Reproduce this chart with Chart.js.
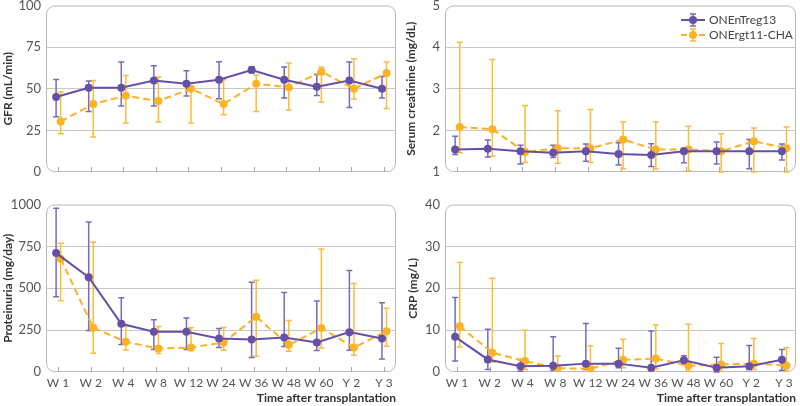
<!DOCTYPE html>
<html>
<head>
<meta charset="utf-8">
<script src="https://cdn.jsdelivr.net/npm/chart.js@4.4.0/dist/chart.umd.min.js"></script>
<style>
  body { margin: 0; background: #fff; }
  #wrap { position: relative; width: 800px; height: 406px; overflow: hidden; }
  canvas { position: absolute; }
</style>
</head>
<body>
<div id="wrap">
  <canvas id="gfr" width="400" height="196" style="left:0;top:-6px"></canvas>
  <canvas id="creat" width="400" height="196" style="left:400px;top:-6px"></canvas>
  <canvas id="prot" width="400" height="213" style="left:0;top:193px"></canvas>
  <canvas id="crp" width="400" height="213" style="left:400px;top:193px"></canvas>
</div>
<script>
const timepoints = ['W 1', 'W 2', 'W 4', 'W 8', 'W 12', 'W 24', 'W 36', 'W 48', 'W 60', 'Y 2', 'Y 3'];
const seriesNames = ['ONEnTreg13', 'ONErgt11-CHA'];

// GFR (mL/min)
const gfrTreg   = [45, 50.6, 50.6, 55, 53, 55.4, 61.2, 55.4, 51.2, 55, 50];
const gfrTregLo = [33.2, 36.4, 39.6, 39.6, 45.6, 44, 59.6, 44.4, 46, 38.8, 44.4];
const gfrTregHi = [55.6, 54.6, 66, 63.8, 60.8, 66.2, 63.2, 63, 58.6, 66, 57.4];
const gfrCha    = [30.4, 40.8, 45.8, 42.6, 50, 40.8, 53, 50.8, 60.2, 50, 59.4];
const gfrChaLo  = [23, 21, 29.4, 30, 29.4, 34.4, 36.4, 37.2, 42, 43.8, 38.2];
const gfrChaHi  = [48, 55, 58, 57, 51, 55.4, 58.2, 65.4, 63, 68, 66];

// serum creatinine (mg/dL)
const creTreg   = [1.54, 1.56, 1.50, 1.46, 1.50, 1.43, 1.41, 1.50, 1.50, 1.50, 1.50];
const creTregLo = [1.42, 1.36, 1.19, 1.35, 1.26, 1.17, 1.13, 1.22, 1.19, 1.08, 1.29];
const creTregHi = [1.86, 1.77, 1.64, 1.64, 1.67, 1.70, 1.68, 1.57, 1.72, 1.78, 1.67];
const creCha    = [2.08, 2.03, 1.48, 1.57, 1.57, 1.78, 1.54, 1.54, 1.50, 1.74, 1.57];
const creChaLo  = [1.46, 1.38, 1.23, 1.21, 1.23, 1.08, 1.07, 1.03, 1.0, 1.0, 1.0];
const creChaHi  = [4.12, 3.70, 2.60, 2.47, 2.50, 2.20, 2.20, 2.10, 1.92, 2.06, 2.08];

// proteinuria (mg/day)
const proTreg   = [710, 566, 288, 240, 240, 200, 194, 206, 176, 238, 200];
const proTregLo = [450, 248, 164, 134, 134, 146, 86, 152, 128, 130, 78];
const proTregHi = [978, 896, 444, 312, 322, 260, 536, 474, 424, 606, 414];
const proCha    = [676, 264, 180, 140, 146, 176, 330, 162, 262, 146, 244];
const proChaLo  = [426, 112, 132, 110, 128, 130, 94, 124, 144, 100, 154];
const proChaHi  = [768, 776, 274, 272, 264, 266, 548, 308, 734, 528, 380];

// CRP (mg/L)
const crpTreg   = [8.4, 3.0, 1.4, 1.5, 2.0, 2.0, 1.0, 2.8, 1.0, 1.4, 2.9];
const crpTregLo = [2.6, 0.6, 0.2, 0.4, 0.6, 1.0, 0.3, 1.8, 0, 0.6, 0.4];
const crpTregHi = [17.8, 10.2, 3.0, 8.4, 11.6, 5.7, 9.8, 3.9, 3.5, 6.3, 5.4];
const crpCha    = [10.9, 4.6, 2.6, 0.9, 0.8, 2.9, 3.2, 1.5, 1.8, 2.0, 1.5];
const crpChaLo  = [6.0, 2.3, 0.6, 0.2, 0.3, 1.0, 0.7, 0.2, 0.2, 0.6, 0.2];
const crpChaHi  = [26.2, 22.4, 10, 3.8, 6.2, 7.8, 11.2, 11.4, 6.8, 8.0, 5.8];

const PURPLE = '#6650a6';
const PURPLE_BAR = '#7c6ab8';
const ORANGE = '#fbb224';
const ORANGE_BAR = '#fcbb3a';
const GRID = '#c8c8c8';
const FONT = 'Lato, "Open Sans", sans-serif';

// rounded frame, inner tick marks and error bars
const frame = {
  id: 'frame',
  beforeDatasetsDraw(chart) {
    const { ctx, chartArea: a, scales } = chart;
    ctx.save();
    ctx.strokeStyle = '#b8b8b8';
    ctx.lineWidth = 1;
    ctx.beginPath();
    ctx.roundRect(a.left + 0.5, a.top + 0.5, a.right - a.left - 1, a.bottom - a.top - 1, 8);
    ctx.stroke();
    ctx.strokeStyle = '#aaaaaa';
    timepoints.forEach((t, i) => {
      const x = Math.round(scales.x.getPixelForValue(i)) + 0.5;
      ctx.beginPath();
      ctx.moveTo(x, a.bottom);
      ctx.lineTo(x, a.bottom - 5);
      ctx.stroke();
    });
    for (let d = chart.data.datasets.length - 1; d >= 0; d--) {
      const ds = chart.data.datasets[d];
      ctx.strokeStyle = ds.barColor;
      ctx.lineWidth = 1.5;
      ds.lo.forEach((lo, i) => {
        const x = scales.x.getPixelForValue(i + ds.shift);
        const y1 = scales.y.getPixelForValue(ds.hi[i]);
        const y2 = scales.y.getPixelForValue(lo);
        ctx.beginPath();
        ctx.moveTo(x, y1); ctx.lineTo(x, y2);
        ctx.moveTo(x - 3, y1); ctx.lineTo(x + 3, y1);
        ctx.moveTo(x - 3, y2); ctx.lineTo(x + 3, y2);
        ctx.stroke();
      });
    }
    ctx.restore();
  }
};

const legendBox = {
  id: 'legendBox',
  afterDraw(chart) {
    if (!chart.options.plugins.legendBox.show) return;
    const { ctx, chartArea: a } = chart;
    const x0 = a.right - 115;
    const y0 = a.top + 14.5;
    const rows = [
      { y: y0, color: PURPLE, bar: PURPLE_BAR, dash: [] },
      { y: y0 + 15, color: ORANGE, bar: ORANGE_BAR, dash: [6, 3] }
    ];
    ctx.save();
    rows.forEach((r, i) => {
      const cx = x0 + 12;
      ctx.strokeStyle = r.bar;
      ctx.lineWidth = 1.5;
      ctx.beginPath();
      ctx.moveTo(cx, r.y - 6); ctx.lineTo(cx, r.y + 6);
      ctx.moveTo(cx - 3, r.y - 6); ctx.lineTo(cx + 3, r.y - 6);
      ctx.moveTo(cx - 3, r.y + 6); ctx.lineTo(cx + 3, r.y + 6);
      ctx.stroke();
      ctx.strokeStyle = r.color;
      ctx.lineWidth = 2;
      ctx.setLineDash(r.dash);
      ctx.beginPath();
      ctx.moveTo(x0, r.y); ctx.lineTo(x0 + 24, r.y);
      ctx.stroke();
      ctx.setLineDash([]);
      ctx.fillStyle = r.color;
      ctx.beginPath();
      ctx.arc(cx, r.y, 4, 0, Math.PI * 2);
      ctx.fill();
      ctx.fillStyle = '#444';
      ctx.font = '12px ' + FONT;
      ctx.textBaseline = 'middle';
      ctx.fillText(seriesNames[i], x0 + 28, r.y);
    });
    ctx.restore();
  }
};

function makeChart(id, p) {
  const showX = !!p.showX;
  const series = [
    { name: seriesNames[0], v: p.treg, lo: p.tregLo, hi: p.tregHi, color: PURPLE, bar: PURPLE_BAR, dash: [], shift: -0.06 },
    { name: seriesNames[1], v: p.cha, lo: p.chaLo, hi: p.chaHi, color: ORANGE, bar: ORANGE_BAR, dash: [7, 4], shift: 0.08 }
  ];
  return new Chart(document.getElementById(id), {
    type: 'line',
    data: {
      datasets: series.map(s => ({
        label: s.name,
        data: s.v.map((v, i) => ({ x: i + s.shift, y: v })),
        lo: s.lo, hi: s.hi, shift: s.shift, barColor: s.bar,
        borderColor: s.color,
        backgroundColor: s.color,
        borderWidth: 2,
        borderDash: s.dash,
        pointRadius: 4,
        pointBorderWidth: 0,
        pointBackgroundColor: s.color,
        tension: 0
      }))
    },
    options: {
      responsive: false,
      animation: false,
      devicePixelRatio: 1,
      layout: { padding: { left: 0, right: 1, top: 0, bottom: 0 } },
      plugins: {
        legend: { display: false },
        tooltip: { enabled: false },
        legendBox: { show: !!p.legend }
      },
      scales: {
        x: {
          type: 'linear',
          min: -0.37,
          max: 10.37,
          afterBuildTicks: s => { s.ticks = timepoints.map((t, i) => ({ value: i })); },
          afterFit: s => { s.height = showX ? 34 : 18; },
          grid: { display: false, drawTicks: false },
          border: { display: false },
          ticks: {
            display: showX,
            autoSkip: false,
            maxRotation: 0,
            padding: 4,
            color: '#555',
            font: { family: FONT, size: 12 },
            callback: v => timepoints[v]
          },
          title: {
            display: showX,
            text: 'Time after transplantation',
            align: 'end',
            color: '#333',
            font: { family: FONT, size: 12, weight: 'bold' },
            padding: { top: 2, bottom: 1 }
          }
        },
        y: {
          min: p.min,
          max: p.max,
          afterFit: s => { s.width = p.yWidth; },
          grid: {
            drawTicks: false,
            color: c => (c.tick.value === p.min || c.tick.value === p.max) ? 'transparent' : GRID
          },
          border: { display: false },
          ticks: {
            stepSize: p.step,
            padding: 5,
            color: '#555',
            font: { family: FONT, size: 13, lineHeight: 1 },
            callback: v => String(v)
          },
          title: {
            display: true,
            text: p.title,
            color: '#333',
            font: { family: FONT, size: 12, weight: 'bold' },
            padding: { top: p.titlePad, bottom: 0 }
          }
        }
      }
    },
    plugins: [frame, legendBox]
  });
}

makeChart('gfr', {
  title: 'GFR (mL/min)', min: 0, max: 100, step: 25, yWidth: 46, titlePad: 1,
  treg: gfrTreg, tregLo: gfrTregLo, tregHi: gfrTregHi, cha: gfrCha, chaLo: gfrChaLo, chaHi: gfrChaHi
});
makeChart('creat', {
  title: 'Serum creatinine (mg/dL)', min: 1, max: 5, step: 1, yWidth: 45, titlePad: 4, legend: true,
  treg: creTreg, tregLo: creTregLo, tregHi: creTregHi, cha: creCha, chaLo: creChaLo, chaHi: creChaHi
});
makeChart('prot', {
  title: 'Proteinuria (mg/day)', min: 0, max: 1000, step: 250, yWidth: 46, titlePad: 1, showX: true,
  treg: proTreg, tregLo: proTregLo, tregHi: proTregHi, cha: proCha, chaLo: proChaLo, chaHi: proChaHi
});
makeChart('crp', {
  title: 'CRP (mg/L)', min: 0, max: 40, step: 10, yWidth: 45, titlePad: 6, showX: true,
  treg: crpTreg, tregLo: crpTregLo, tregHi: crpTregHi, cha: crpCha, chaLo: crpChaLo, chaHi: crpChaHi
});
</script>
</body>
</html>
